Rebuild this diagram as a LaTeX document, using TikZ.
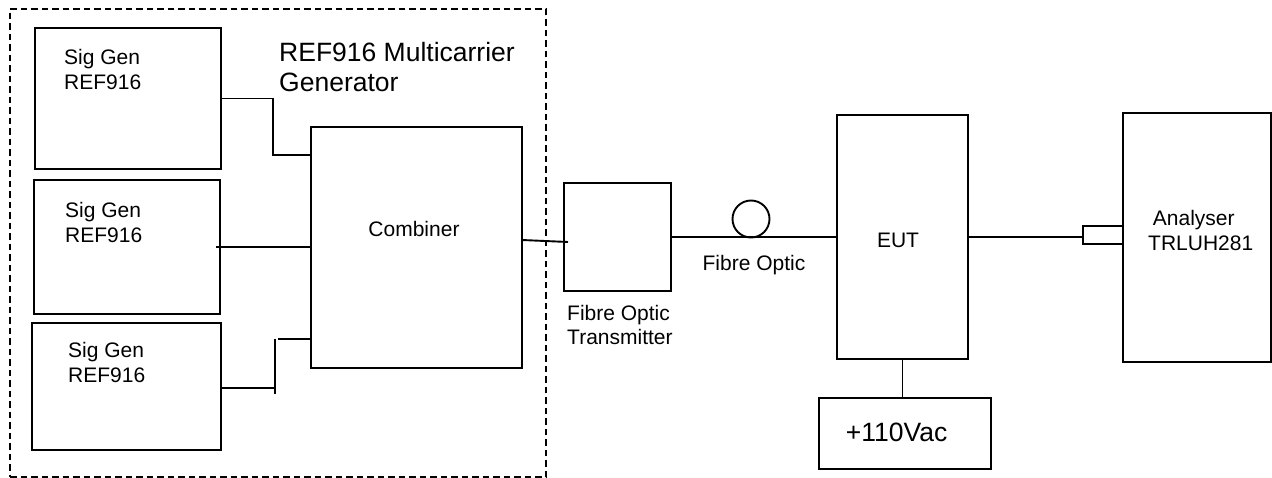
\documentclass[tikz,border=0pt]{standalone}
\usepackage{fontspec}
\setmainfont{Liberation Sans}
\usetikzlibrary{fit,calc}
\begin{document}
\begin{tikzpicture}[x=1bp,y=-1bp,
  box/.style={draw,line width=1.9bp,inner sep=0pt,outer sep=0pt,rectangle},
  grp/.style={draw,line width=1.9bp,inner sep=0pt,outer sep=0pt,rectangle,dash pattern=on 6.5bp off 4bp},
  wire/.style={line width=1.9bp},
  lbl/.style={inner sep=0pt,anchor=base west,font=\fontsize{21bp}{25bp}\selectfont},
  big/.style={inner sep=0pt,anchor=base west,font=\fontsize{26.5bp}{30bp}\selectfont}]
\useasboundingbox (0,0) rectangle (1272,478);
% group
\node[grp, fit={(10,9) (546,477)}] (mcg) {};
% boxes
\node[box, fit={(35,28) (221,169)}] (sg1) {};
\node[box, fit={(34,180) (220,314)}] (sg2) {};
\node[box, fit={(32,323) (221,450)}] (sg3) {};
\node[box, fit={(311,127) (522,368)}] (comb) {};
\node[box, fit={(564,183) (671,291)}] (fot) {};
\node[box, fit={(837,115) (968,359)}] (eut) {};
\node[box, fit={(1123,113) (1271,362)}] (ana) {};
\node[box, fit={(1083,226) (1123,244)}] (conn) {};
\node[box, fit={(819,398) (991,469)}] (pwr) {};
\node[draw,circle,line width=1.9bp,inner sep=0pt,outer sep=0pt,minimum size=37bp] (loop) at (751,219) {};
% texts
\node[lbl] (t1a) at (64,64.5) {Sig Gen};
\node[lbl] (t1b) at (64,89.5) {REF916};
\node[lbl] (t2a) at (65,217.5) {Sig Gen};
\node[lbl] (t2b) at (65,242.5) {REF916};
\node[lbl] (t3a) at (68,357.5) {Sig Gen};
\node[lbl] (t3b) at (68,382.5) {REF916};
\node[big] (ttl1) at (279,62) {REF916 Multicarrier};
\node[big] (ttl2) at (279,92) {Generator};
\node[lbl,anchor=base] (tc) at (414,236.5) {Combiner};
\node[lbl,anchor=base] (tfo) at (754,270.5) {Fibre Optic};
\node[lbl] (tft1) at (567,320.7) {Fibre Optic};
\node[lbl] (tft2) at (567,345) {Transmitter};
\node[lbl,anchor=base] (teut) at (898,247.7) {EUT};
\node[lbl] (tan1) at (1152.7,226) {Analyser};
\node[lbl] (tan2) at (1148,251) {TRLUH281};
\node[big] (tpw) at (845.7,441.7) {+110Vac};
% connectors
\coordinate (k1) at (273,155);
\draw[wire] (sg1.east) -| (k1) -- (k1 -| comb.west);
\draw[wire] ($(sg2.east)+(-4,0)$) -- (sg2.east -| comb.west);
\coordinate (k3a) at (275,339);
\coordinate (k3b) at (275,394);
\coordinate (k3c) at (278,339);
\coordinate (k3d) at (275,388);
\draw[line width=1.5bp] (k3a) -- (k3b);
\draw[wire] (sg3.east |- k3d) -- (k3d);
\draw[wire] (k3c) -- (k3c -| comb.west);
\draw[wire] ($(comb.east)+(0,-7.5)$) -- ($(fot.west)+(4,5)$);
\draw[wire] (fot.east) -- (fot.east -| eut.west);
\draw[wire] (eut.east) -- (eut.east -| conn.west);
\draw[wire] (eut.south) -- (eut.south |- pwr.north);
\end{tikzpicture}
\end{document}
